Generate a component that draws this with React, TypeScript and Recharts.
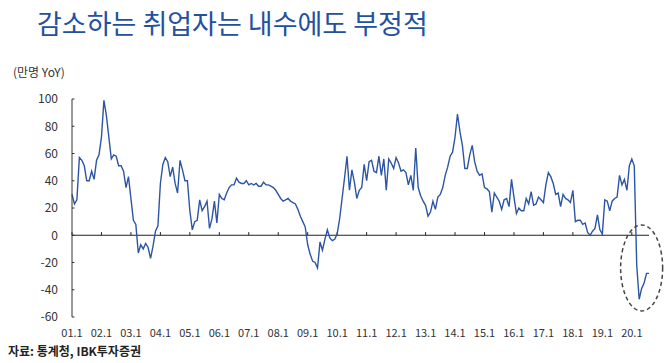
import { LineChart, Line, XAxis, YAxis, ReferenceLine, ReferenceDot } from 'recharts';

// 취업자 증감 (만명, YoY), monthly from 2001.1
const yoy2001 = [30, 23, 26, 57, 55, 51, 40, 40, 47, 41, 55, 59];
const yoy2002 = [72, 99, 88, 72, 56, 59, 58, 51, 51, 47, 35, 43];
const yoy2003 = [27, 11, 8, -13, -7, -10, -6, -9, -17, -8, 3, 7];
const yoy2004 = [38, 52, 57, 54, 43, 50, 38, 31, 55, 48, 40, 40];
const yoy2005 = [18, 4, 10, 11, 26, 18, 21, 25, 5, 12, 25, 9];
const yoy2006 = [30, 27, 26, 31, 35, 37, 37, 42, 39, 38, 38, 40];
const yoy2007 = [37, 38, 37, 38, 36, 36, 39, 37, 37, 36, 35, 33];
const yoy2008 = [30, 27, 25, 26, 27, 25, 24, 23, 19, 14, 10, 6];
const yoy2009 = [-7, -14, -19, -20, -24, -5, -11, -3, 4, -2, -4, -3];
const yoy2010 = [1, 12, 27, 42, 58, 33, 48, 39, 27, 33, 35, 52];
const yoy2011 = [40, 54, 55, 47, 46, 58, 44, 56, 33, 56, 53, 49];
const yoy2012 = [57, 53, 47, 48, 46, 37, 44, 33, 64, 35, 29, 25];
const yoy2013 = [22, 14, 17, 25, 19, 28, 30, 35, 44, 50, 58, 61];
const yoy2014 = [72, 89, 76, 66, 49, 49, 59, 66, 54, 47, 44, 45];
const yoy2015 = [35, 34, 32, 17, 31, 28, 25, 19, 26, 27, 21, 41];
const yoy2016 = [28, 16, 20, 18, 18, 27, 23, 32, 22, 23, 28, 26];
const yoy2017 = [24, 37, 46, 43, 38, 30, 31, 21, 30, 27, 26, 24];
const yoy2018 = [33, 10, 11, 11, 8, 9, 2, 0, 3, 5, 15, 4];
const yoy2019 = [1, 26, 25, 18, 25, 27, 28, 44, 37, 41, 33, 51];
const yoy2020 = [56, 51, -22, -47, -39, -35, -28, -28];

const years = [
  yoy2001, yoy2002, yoy2003, yoy2004, yoy2005, yoy2006, yoy2007,
  yoy2008, yoy2009, yoy2010, yoy2011, yoy2012, yoy2013, yoy2014,
  yoy2015, yoy2016, yoy2017, yoy2018, yoy2019, yoy2020,
];

const tickLabels = [
  '01.1', '02.1', '03.1', '04.1', '05.1', '06.1', '07.1', '08.1', '09.1', '10.1',
  '11.1', '12.1', '13.1', '14.1', '15.1', '16.1', '17.1', '18.1', '19.1', '20.1',
];
const yTicks = [100, 80, 60, 40, 20, 0, -20, -40, -60];

const data = years.flatMap((vals, yi) =>
  vals.map((v, mi) => ({
    label: `${String(yi + 1).padStart(2, '0')}.${mi + 1}`,
    value: v,
  }))
);

const FONT = "'Noto Sans CJK KR', 'Noto Sans', sans-serif";

export default function App() {
  return (
    <div style={{ position: 'absolute', left: 0, top: 0, width: 670, height: 363, background: '#fff', fontFamily: FONT }}>
      <div style={{ position: 'absolute', left: 37, top: 9, fontSize: 27, lineHeight: 1, color: '#23509f', whiteSpace: 'nowrap' }}>
        감소하는 취업자는 내수에도 부정적
      </div>
      <div style={{ position: 'absolute', left: 13, top: 66, fontSize: 12, lineHeight: 1, color: '#333' }}>
        (만명 YoY)
      </div>
      <LineChart width={670} height={363} data={data} margin={{ top: 99, right: 21, left: 22, bottom: 16 }}>
        <XAxis
          dataKey="label"
          ticks={tickLabels}
          interval={0}
          axisLine={false}
          tickLine={false}
          tickSize={6}
          tickMargin={6}
          height={30}
          tick={{ fontSize: 11, fill: '#333', fontFamily: FONT }}
        />
        <YAxis
          domain={[-60, 100]}
          ticks={yTicks}
          interval={0}
          width={50}
          axisLine={{ stroke: '#333', strokeWidth: 1 }}
          tickLine={false}
          tickSize={6}
          tickMargin={8}
          tick={{ fontSize: 12, fill: '#333', fontFamily: FONT }}
        />
        {yTicks.map((v) => (
          <ReferenceLine
            key={`yt-${v}`}
            segment={[{ x: data[0].label, y: v }, { x: data[1].label, y: v }]}
            stroke="#333"
            strokeWidth={1}
          />
        ))}
        <ReferenceLine y={0} stroke="#222" strokeWidth={1.2} />
        {tickLabels.map((t) => (
          <ReferenceLine
            key={`xt-${t}`}
            segment={[{ x: t, y: 0 }, { x: t, y: 2.3 }]}
            stroke="#222"
            strokeWidth={1}
          />
        ))}
        <Line
          type="linear"
          dataKey="value"
          stroke="#2d55a5"
          strokeWidth={1.4}
          dot={false}
          isAnimationActive={false}
        />
        <ReferenceDot
          x="20.5"
          y={-24}
          r={0}
          ifOverflow="visible"
          shape={(p: any) => (
            <ellipse
              cx={p.cx}
              cy={p.cy}
              rx={21}
              ry={43}
              fill="none"
              stroke="#444"
              strokeWidth={1.5}
              strokeDasharray="4 3"
            />
          )}
        />
      </LineChart>
      <div style={{ position: 'absolute', left: 8, top: 345, fontSize: 12, lineHeight: 1, color: '#222', fontWeight: 700, whiteSpace: 'nowrap' }}>
        자료: 통계청, IBK투자증권
      </div>
    </div>
  );
}
